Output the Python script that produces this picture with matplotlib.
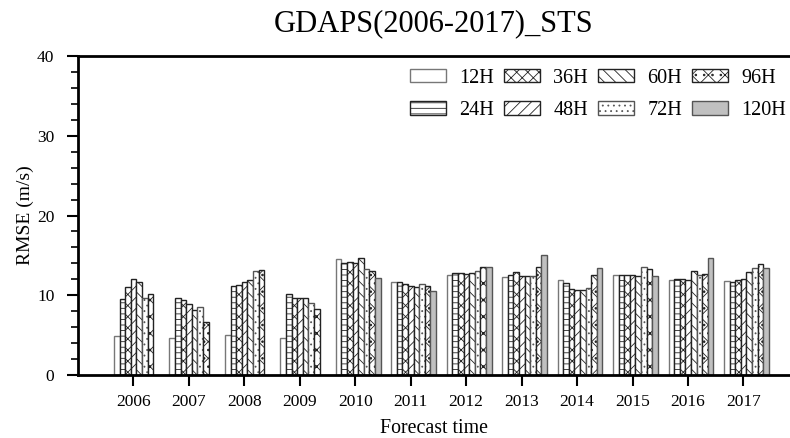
import numpy as np
import matplotlib
matplotlib.use("Agg")
import matplotlib.pyplot as plt
from matplotlib.ticker import MultipleLocator


years = [2006, 2007, 2008, 2009, 2010, 2011, 2012, 2013, 2014, 2015, 2016, 2017]
labels = ["12H", "24H", "36H", "48H", "60H", "72H", "96H", "120H"]

rmse_12h = [4.9, 4.7, 5.0, 4.6, 14.6, 11.6, 12.6, 12.3, 11.9, 12.6, 11.9, 11.8]
rmse_24h = [9.5, 9.7, 11.1, 10.2, 14.0, 11.6, 12.8, 12.5, 11.5, 12.6, 12.1, 11.7]
rmse_36h = [11.0, 9.4, 11.3, 9.6, 14.2, 11.4, 12.8, 12.9, 10.8, 12.5, 12.1, 11.9]
rmse_48h = [12.1, 8.9, 11.6, 9.7, 14.0, 11.2, 12.7, 12.4, 10.7, 12.5, 11.9, 12.1]
rmse_60h = [11.6, 8.1, 11.9, 9.6, 14.7, 11.0, 12.8, 12.4, 10.7, 12.4, 13.0, 12.9]
rmse_72h = [9.7, 8.5, 13.0, 9.0, 13.3, 11.4, 13.0, 12.4, 10.9, 13.5, 12.6, 13.4]
rmse_96h = [10.2, 6.7, 13.2, 8.3, 13.1, 11.1, 13.5, 13.6, 12.5, 13.3, 12.7, 13.9]
rmse_120h = [np.nan, np.nan, np.nan, np.nan, 12.2, 10.5, 13.6, 15.1, 13.4, 12.4, 14.7, 13.4]

series = [rmse_12h, rmse_24h, rmse_36h, rmse_48h, rmse_60h, rmse_72h, rmse_96h, rmse_120h]
hatches = ["", "---", "xxx", "///", "\\\\\\", "...", "xx..", ""]
fills = ["white"] * 7 + ["#c0c0c0"]
edges = ["#777777", "#222222", "#222222", "#222222", "#222222", "#555555", "#222222", "#555555"]

plt.rcParams["font.family"] = ["Liberation Serif", "DejaVu Serif"]
plt.rcParams["hatch.linewidth"] = 0.6

fig = plt.figure(figsize=(7.9, 4.38), dpi=100)
ax = fig.add_axes([78 / 790, 63 / 438, 712 / 790, 319 / 438])

x = np.array(years, dtype=float)
width = 0.101
for i, (vals, lab) in enumerate(zip(series, labels)):
    ax.bar(x - 0.30 + width * i, vals, width=width, color=fills[i],
           edgecolor=edges[i], hatch=hatches[i], linewidth=1.0, label=lab)

ax.set_xlim(2005, 2017.84)
ax.set_ylim(0, 40)
ax.set_xticks(years)
ax.yaxis.set_major_locator(MultipleLocator(10))
ax.yaxis.set_minor_locator(MultipleLocator(2))
ax.tick_params(axis="both", which="major", direction="out", length=8, width=1.5, labelsize=12.5)
ax.tick_params(axis="y", which="major", pad=9)
ax.tick_params(axis="x", which="major", pad=6)
ax.tick_params(axis="y", which="minor", direction="out", length=5, width=1.2)
ax.tick_params(axis="x", which="minor", bottom=False)
ax.spines["right"].set_visible(False)
for side in ["left", "bottom", "top"]:
    ax.spines[side].set_linewidth(2)

ax.set_xlabel("Forecast time", fontsize=14.3, labelpad=6)
ax.set_ylabel("RMSE (m/s)", fontsize=14, labelpad=2)
ax.set_title("GDAPS(2006-2017)_STS", fontsize=22, pad=18)

ax.legend(ncol=4, loc="upper right", bbox_to_anchor=(1.006, 0.985), frameon=False,
          fontsize=14.5, handlelength=1.8, handleheight=0.65, handletextpad=0.65,
          columnspacing=0.5, labelspacing=0.65, borderaxespad=0.1, borderpad=0.3)

fig.savefig("out.png", dpi=100)
